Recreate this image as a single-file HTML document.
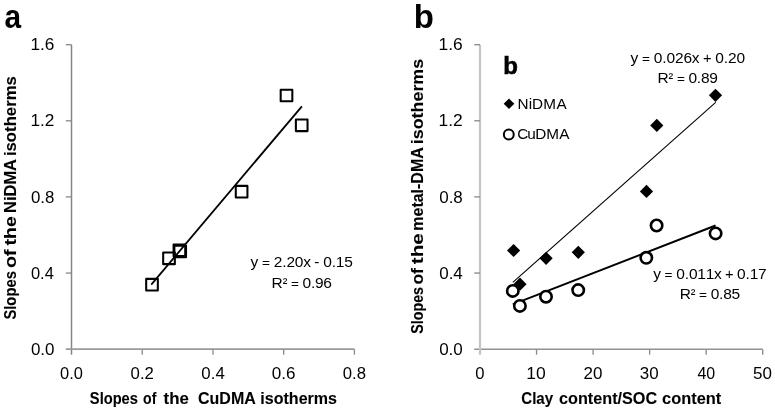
<!DOCTYPE html>
<html><head><meta charset="utf-8"><style>
html,body{margin:0;padding:0;background:#fff;width:775px;height:410px;overflow:hidden}
svg{display:block;filter:grayscale(1)}
.t{font-family:"Liberation Sans", sans-serif;font-size:17.2px;fill:#000}
.e{font-family:"Liberation Sans", sans-serif;font-size:15.5px;fill:#000}
.lg{font-family:"Liberation Sans", sans-serif;font-size:15.3px;fill:#000}
.bt{font-family:"Liberation Sans", sans-serif;font-size:16.5px;font-weight:bold;fill:#000;stroke:#000;stroke-width:0.1px}
.pl{font-family:"Liberation Sans", sans-serif;font-size:33px;font-weight:bold;fill:#000}
.lb{font-family:"Liberation Sans", sans-serif;font-size:24px;font-weight:bold;fill:#000;stroke:#000;stroke-width:0.6px}
</style></head><body>
<svg width="775" height="410" viewBox="0 0 775 410">
<line x1="71.50" y1="44.70" x2="71.50" y2="354.70" stroke="#868686" stroke-width="1.50"/>
<line x1="65.80" y1="349.10" x2="354.40" y2="349.10" stroke="#9a9a9a" stroke-width="1.70"/>
<line x1="65.80" y1="44.70" x2="71.50" y2="44.70" stroke="#888888" stroke-width="1.30"/>
<line x1="65.80" y1="120.80" x2="71.50" y2="120.80" stroke="#888888" stroke-width="1.30"/>
<line x1="65.80" y1="196.90" x2="71.50" y2="196.90" stroke="#888888" stroke-width="1.30"/>
<line x1="65.80" y1="273.05" x2="71.50" y2="273.05" stroke="#888888" stroke-width="1.30"/>
<line x1="142.22" y1="349.20" x2="142.22" y2="354.70" stroke="#888888" stroke-width="1.30"/>
<line x1="212.95" y1="349.20" x2="212.95" y2="354.70" stroke="#888888" stroke-width="1.30"/>
<line x1="283.67" y1="349.20" x2="283.67" y2="354.70" stroke="#888888" stroke-width="1.30"/>
<line x1="354.40" y1="349.20" x2="354.40" y2="354.70" stroke="#888888" stroke-width="1.30"/>
<line x1="474.20" y1="349.30" x2="762.70" y2="349.30" stroke="#8f9395" stroke-width="1.40"/>
<line x1="480.00" y1="44.70" x2="480.00" y2="354.70" stroke="#c2c6c9" stroke-width="2.30"/>
<line x1="474.20" y1="44.70" x2="480.00" y2="44.70" stroke="#888888" stroke-width="1.30"/>
<line x1="474.20" y1="120.80" x2="480.00" y2="120.80" stroke="#888888" stroke-width="1.30"/>
<line x1="474.20" y1="196.90" x2="480.00" y2="196.90" stroke="#888888" stroke-width="1.30"/>
<line x1="474.20" y1="273.05" x2="480.00" y2="273.05" stroke="#888888" stroke-width="1.30"/>
<line x1="536.54" y1="349.20" x2="536.54" y2="354.70" stroke="#888888" stroke-width="1.30"/>
<line x1="593.08" y1="349.20" x2="593.08" y2="354.70" stroke="#888888" stroke-width="1.30"/>
<line x1="649.62" y1="349.20" x2="649.62" y2="354.70" stroke="#888888" stroke-width="1.30"/>
<line x1="706.16" y1="349.20" x2="706.16" y2="354.70" stroke="#888888" stroke-width="1.30"/>
<line x1="762.70" y1="349.20" x2="762.70" y2="354.70" stroke="#888888" stroke-width="1.30"/>
<text x="30.45" y="50.30" class="t" textLength="24.01" lengthAdjust="spacingAndGlyphs">1.6</text>
<text x="438.62" y="50.30" class="t" textLength="24.20" lengthAdjust="spacingAndGlyphs">1.6</text>
<text x="30.45" y="126.40" class="t" textLength="24.01" lengthAdjust="spacingAndGlyphs">1.2</text>
<text x="438.59" y="126.40" class="t" textLength="24.24" lengthAdjust="spacingAndGlyphs">1.2</text>
<text x="30.98" y="202.50" class="t" textLength="23.42" lengthAdjust="spacingAndGlyphs">0.8</text>
<text x="439.19" y="202.50" class="t" textLength="23.63" lengthAdjust="spacingAndGlyphs">0.8</text>
<text x="30.98" y="278.65" class="t" textLength="22.86" lengthAdjust="spacingAndGlyphs">0.4</text>
<text x="439.23" y="278.65" class="t" textLength="23.58" lengthAdjust="spacingAndGlyphs">0.4</text>
<text x="30.91" y="354.80" class="t" textLength="23.55" lengthAdjust="spacingAndGlyphs">0.0</text>
<text x="439.18" y="354.80" class="t" textLength="23.63" lengthAdjust="spacingAndGlyphs">0.0</text>
<text x="60.09" y="378.80" class="t" textLength="22.84" lengthAdjust="spacingAndGlyphs">0.0</text>
<text x="130.57" y="378.80" class="t" textLength="23.30" lengthAdjust="spacingAndGlyphs">0.2</text>
<text x="201.36" y="378.80" class="t" textLength="23.41" lengthAdjust="spacingAndGlyphs">0.4</text>
<text x="271.82" y="378.80" class="t" textLength="23.75" lengthAdjust="spacingAndGlyphs">0.6</text>
<text x="342.82" y="378.80" class="t" textLength="23.23" lengthAdjust="spacingAndGlyphs">0.8</text>
<text x="475.30" y="378.80" class="t" textLength="9.25" lengthAdjust="spacingAndGlyphs">0</text>
<text x="526.35" y="378.80" class="t" textLength="19.46" lengthAdjust="spacingAndGlyphs">10</text>
<text x="583.52" y="378.80" class="t" textLength="18.86" lengthAdjust="spacingAndGlyphs">20</text>
<text x="639.81" y="378.80" class="t" textLength="18.80" lengthAdjust="spacingAndGlyphs">30</text>
<text x="697.38" y="378.80" class="t" textLength="17.75" lengthAdjust="spacingAndGlyphs">40</text>
<text x="753.01" y="378.80" class="t" textLength="18.91" lengthAdjust="spacingAndGlyphs">50</text>
<text x="89.86" y="403.70" class="bt" textLength="48.07" lengthAdjust="spacingAndGlyphs">Slopes</text>
<text x="143.12" y="403.70" class="bt" textLength="13.30" lengthAdjust="spacingAndGlyphs">of</text>
<text x="163.62" y="403.70" class="bt" textLength="25.24" lengthAdjust="spacingAndGlyphs">the</text>
<text x="198.00" y="403.70" class="bt" textLength="57.80" lengthAdjust="spacingAndGlyphs">CuDMA</text>
<text x="260.36" y="403.70" class="bt" textLength="76.63" lengthAdjust="spacingAndGlyphs">isotherms</text>
<text x="521.26" y="403.70" class="bt" textLength="31.84" lengthAdjust="spacingAndGlyphs">Clay</text>
<text x="559.00" y="403.70" class="bt" textLength="98.16" lengthAdjust="spacingAndGlyphs">content/SOC</text>
<text x="662.06" y="403.70" class="bt" textLength="59.17" lengthAdjust="spacingAndGlyphs">content</text>
<text transform="translate(16.20,319.61) rotate(-90)" x="0" y="0" class="bt" textLength="48.47" lengthAdjust="spacingAndGlyphs">Slopes</text>
<text transform="translate(16.20,268.07) rotate(-90)" x="0" y="0" class="bt" textLength="18.63" lengthAdjust="spacingAndGlyphs">of</text>
<text transform="translate(16.20,245.38) rotate(-90)" x="0" y="0" class="bt" textLength="29.23" lengthAdjust="spacingAndGlyphs">the</text>
<text transform="translate(16.20,212.95) rotate(-90)" x="0" y="0" class="bt" textLength="53.95" lengthAdjust="spacingAndGlyphs">NiDMA</text>
<text transform="translate(16.20,156.11) rotate(-90)" x="0" y="0" class="bt" textLength="79.95" lengthAdjust="spacingAndGlyphs">isotherms</text>
<text transform="translate(423.00,333.70) rotate(-90)" x="0" y="0" class="bt" textLength="46.74" lengthAdjust="spacingAndGlyphs">Slopes</text>
<text transform="translate(423.00,284.59) rotate(-90)" x="0" y="0" class="bt" textLength="16.55" lengthAdjust="spacingAndGlyphs">of</text>
<text transform="translate(423.00,264.18) rotate(-90)" x="0" y="0" class="bt" textLength="31.05" lengthAdjust="spacingAndGlyphs">the</text>
<text transform="translate(423.00,230.73) rotate(-90)" x="0" y="0" class="bt" textLength="83.52" lengthAdjust="spacingAndGlyphs">metal-DMA</text>
<text transform="translate(423.00,144.24) rotate(-90)" x="0" y="0" class="bt" textLength="85.42" lengthAdjust="spacingAndGlyphs">isotherms</text>
<text y="266.70" class="e"><tspan x="250.47">y</tspan><tspan x="261.90" style="font-size:13.64px">=</tspan><tspan x="273.72">2</tspan><tspan x="282.22">.</tspan><tspan x="286.39">2</tspan><tspan x="294.85">0</tspan><tspan x="303.13">x</tspan><tspan x="314.37">-</tspan><tspan x="323.20">0</tspan><tspan x="331.69">.</tspan><tspan x="335.87">1</tspan><tspan x="344.32">5</tspan></text>
<text y="287.50" class="e"><tspan x="271.58">R</tspan><tspan x="282.69" style="font-size:13.95px">²</tspan><tspan x="290.99" style="font-size:13.64px">=</tspan><tspan x="302.57">0</tspan><tspan x="310.93">.</tspan><tspan x="314.98">9</tspan><tspan x="323.26">6</tspan></text>
<text y="63.20" class="e"><tspan x="630.44">y</tspan><tspan x="641.92" style="font-size:13.64px">=</tspan><tspan x="653.81">0</tspan><tspan x="662.33">.</tspan><tspan x="666.53">0</tspan><tspan x="675.03">2</tspan><tspan x="683.53">6</tspan><tspan x="691.85">x</tspan><tspan x="703.02" style="font-size:14.72px">+</tspan><tspan x="715.22">0</tspan><tspan x="723.74">.</tspan><tspan x="727.94">2</tspan><tspan x="736.44">0</tspan></text>
<text y="83.30" class="e"><tspan x="657.50">R</tspan><tspan x="668.61" style="font-size:13.95px">²</tspan><tspan x="676.91" style="font-size:13.64px">=</tspan><tspan x="688.50">0</tspan><tspan x="696.86">.</tspan><tspan x="700.91">8</tspan><tspan x="709.20">9</tspan></text>
<text y="278.50" class="e"><tspan x="653.26">y</tspan><tspan x="664.61" style="font-size:13.64px">=</tspan><tspan x="676.35">0</tspan><tspan x="684.80">.</tspan><tspan x="688.94">0</tspan><tspan x="697.34">1</tspan><tspan x="705.73">1</tspan><tspan x="713.96">x</tspan><tspan x="725.00" style="font-size:14.72px">+</tspan><tspan x="737.06">0</tspan><tspan x="745.51">.</tspan><tspan x="749.64">1</tspan><tspan x="758.04">7</tspan></text>
<text y="298.90" class="e"><tspan x="679.64">R</tspan><tspan x="690.77" style="font-size:13.95px">²</tspan><tspan x="699.09" style="font-size:13.64px">=</tspan><tspan x="710.70">0</tspan><tspan x="719.08">.</tspan><tspan x="723.15">8</tspan><tspan x="731.45">5</tspan></text>
<text y="108.70" class="lg"><tspan x="517.56">N</tspan><tspan x="528.68">i</tspan><tspan x="531.89">D</tspan><tspan x="543.29">M</tspan><tspan x="556.50">A</tspan></text>
<text y="139.20" class="lg"><tspan x="517.25">C</tspan><tspan x="527.16">u</tspan><tspan x="535.19">D</tspan><tspan x="546.33">M</tspan><tspan x="559.29">A</tspan></text>
<text x="4.6" y="28" class="pl" textLength="16.6" lengthAdjust="spacingAndGlyphs">a</text>
<text x="413.8" y="28" class="pl">b</text>
<line x1="151.30" y1="284.60" x2="301.90" y2="106.30" stroke="#000" stroke-width="1.80"/>
<line x1="512.80" y1="282.40" x2="715.70" y2="102.30" stroke="#000" stroke-width="1.10"/>
<line x1="512.80" y1="304.40" x2="715.60" y2="225.50" stroke="#000" stroke-width="1.95"/>
<rect x="146.18" y="278.88" width="11.65" height="11.65" fill="none" stroke="#000" stroke-linejoin="round" stroke-width="2.05"/>
<rect x="163.18" y="252.48" width="11.65" height="11.65" fill="none" stroke="#000" stroke-linejoin="round" stroke-width="2.05"/>
<rect x="173.58" y="244.48" width="11.65" height="11.65" fill="none" stroke="#000" stroke-linejoin="round" stroke-width="2.05"/>
<rect x="174.38" y="245.68" width="11.65" height="11.65" fill="none" stroke="#000" stroke-linejoin="round" stroke-width="2.05"/>
<rect x="235.78" y="185.88" width="11.65" height="11.65" fill="none" stroke="#000" stroke-linejoin="round" stroke-width="2.05"/>
<rect x="280.68" y="89.67" width="11.65" height="11.65" fill="none" stroke="#000" stroke-linejoin="round" stroke-width="2.05"/>
<rect x="295.88" y="119.47" width="11.65" height="11.65" fill="none" stroke="#000" stroke-linejoin="round" stroke-width="2.05"/>
<path d="M513.60 243.90L520.20 250.50L513.60 257.10L507.00 250.50Z" fill="#000"/>
<path d="M520.00 277.60L526.60 284.20L520.00 290.80L513.40 284.20Z" fill="#000"/>
<path d="M546.10 251.70L552.70 258.30L546.10 264.90L539.50 258.30Z" fill="#000"/>
<path d="M578.30 245.70L584.90 252.30L578.30 258.90L571.70 252.30Z" fill="#000"/>
<path d="M646.50 184.80L653.10 191.40L646.50 198.00L639.90 191.40Z" fill="#000"/>
<path d="M656.80 118.80L663.40 125.40L656.80 132.00L650.20 125.40Z" fill="#000"/>
<path d="M715.50 88.70L722.10 95.30L715.50 101.90L708.90 95.30Z" fill="#000"/>
<circle cx="512.80" cy="290.90" r="5.70" fill="#fff" stroke="#000" stroke-width="2.60"/>
<circle cx="519.90" cy="305.90" r="5.70" fill="#fff" stroke="#000" stroke-width="2.60"/>
<circle cx="546.00" cy="296.70" r="5.70" fill="#fff" stroke="#000" stroke-width="2.60"/>
<circle cx="578.20" cy="290.10" r="5.70" fill="#fff" stroke="#000" stroke-width="2.60"/>
<circle cx="646.30" cy="257.80" r="5.70" fill="#fff" stroke="#000" stroke-width="2.60"/>
<circle cx="656.60" cy="225.50" r="5.70" fill="#fff" stroke="#000" stroke-width="2.60"/>
<circle cx="715.60" cy="233.40" r="5.70" fill="#fff" stroke="#000" stroke-width="2.60"/>
<text x="503.3" y="74.4" class="lb">b</text>
<path d="M509.00 98.40L514.30 103.70L509.00 109.00L503.70 103.70Z" fill="#000"/>
<circle cx="508.8" cy="134.5" r="4.95" fill="#fff" stroke="#000" stroke-width="2"/>
</svg>
</body></html>
